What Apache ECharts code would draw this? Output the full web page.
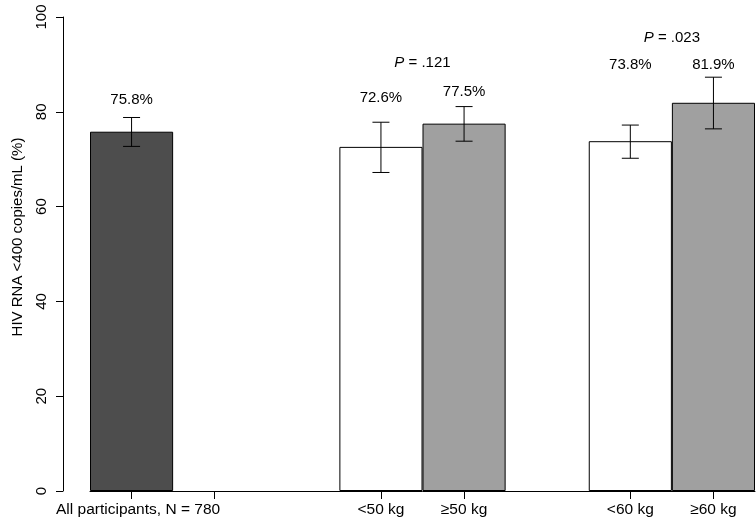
<!DOCTYPE html>
<html>
<head>
<meta charset="utf-8">
<script src="https://cdn.jsdelivr.net/npm/echarts@6/dist/echarts.min.js"></script>
<style>
html,body{margin:0;padding:0;background:#fff;}
#chart{width:756px;height:524px;}
</style>
</head>
<body>
<div id="chart"></div>
<script>
// ---- data ----
const categories = ['All participants, N = 780', '', '', '<50 kg', '\u226550 kg', '', '<60 kg', '\u226560 kg'];
const pct    = [75.8, null, null, 72.6, 77.5, null, 73.8, 81.9];
const ciLow  = [72.7, null, null, 67.2, 73.8, null, 70.2, 76.4];
const ciHigh = [78.8, null, null, 77.8, 81.1, null, 77.2, 87.3];
const labelY = [82.5, null, null, 83.0, 84.2, null, 89.9, 89.9];
const pValues = ['.121', '.023'];
const pPairs  = [[3, 4], [6, 7]];
const pY      = [90.4, 95.6];
const yTicks  = [0, 20, 40, 60, 80, 100];

// ---- style ----
const FONT = 'Liberation Sans, Arial, Helvetica, sans-serif';
const barColors = ['#4d4d4d', null, null, '#ffffff', '#a0a0a0', null, '#ffffff', '#a0a0a0'];
const tickAt = [0, 1, 3, 4, 6, 7];

const chart = echarts.init(document.getElementById('chart'), null, {renderer: 'canvas'});

const barData = pct.map((v, i) => v == null ? '-' : {
  value: v,
  itemStyle: {color: barColors[i], borderColor: '#000', borderWidth: 1}
});

const errData = [];
pct.forEach((v, i) => { if (v != null) errData.push([i, ciLow[i], ciHigh[i]]); });

const textData = [];
pct.forEach((v, i) => { if (v != null) textData.push([i, labelY[i], v.toFixed(1) + '%']); });

const pData = pValues.map((p, k) => [pPairs[k][0], pPairs[k][1], pY[k], p]);

const option = {
  animation: false,
  backgroundColor: '#fff',
  grid: {left: 90, right: 1, top: 17, bottom: 33, containLabel: false},
  xAxis: {
    type: 'category',
    data: categories.map((c, i) => i === 0 ? {value: String(i), textStyle: {padding: [0, 0, 0, 13]}} : String(i)),
    boundaryGap: true,
    axisLine: {show: true, lineStyle: {color: '#000', width: 1}},
    axisTick: {
      show: true, alignWithLabel: true, length: 8,
      interval: (idx) => tickAt.indexOf(idx) >= 0,
      lineStyle: {color: '#000', width: 1}
    },
    axisLabel: {
      interval: 0, margin: 11,
      formatter: (v) => categories[+v],
      color: '#000', fontFamily: FONT, fontSize: 15.5
    },
    splitLine: {show: false}
  },
  yAxis: {
    type: 'value', min: 0, max: 100, interval: 20,
    offset: 27,
    name: 'HIV RNA <400 copies/mL (%)',
    nameLocation: 'middle', nameRotate: 90, nameGap: 38,
    nameTextStyle: {color: '#000', fontFamily: FONT, fontSize: 15, padding: [0, 0, 0, 34]},
    axisLine: {show: true, lineStyle: {color: '#000', width: 1}},
    axisTick: {show: true, length: 7, lineStyle: {color: '#000', width: 1}},
    axisLabel: {rotate: 90, margin: 14, color: '#000', fontFamily: FONT, fontSize: 15,
      formatter: (v) => yTicks.indexOf(v) >= 0 ? String(v) : ''},
    splitLine: {show: false}
  },
  series: [
    {
      type: 'bar', data: barData, barCategoryGap: '0%', barGap: '0%', z: 2
    },
    {
      type: 'custom', z: 5, data: errData,
      renderItem: (params, api) => {
        const x = api.value(0);
        const lo = api.coord([x, api.value(1)]);
        const hi = api.coord([x, api.value(2)]);
        const hw = 8.5;
        const st = {stroke: '#000', lineWidth: 1};
        return {type: 'group', children: [
          {type: 'line', shape: {x1: lo[0], y1: lo[1], x2: hi[0], y2: hi[1]}, style: st},
          {type: 'line', shape: {x1: lo[0] - hw, y1: lo[1], x2: lo[0] + hw, y2: lo[1]}, style: st},
          {type: 'line', shape: {x1: hi[0] - hw, y1: hi[1], x2: hi[0] + hw, y2: hi[1]}, style: st}
        ]};
      }
    },
    {
      type: 'custom', z: 6, data: textData,
      renderItem: (params, api) => {
        const p = api.coord([api.value(0), api.value(1)]);
        return {type: 'text', x: p[0], y: p[1], style: {
          text: textData[params.dataIndex][2], fill: '#000', font: '15px ' + FONT,
          align: 'center', verticalAlign: 'middle'}};
      }
    },
    {
      type: 'custom', z: 6, data: pData,
      renderItem: (params, api) => {
        const a = api.coord([api.value(0), api.value(2)]);
        const b = api.coord([api.value(1), api.value(2)]);
        return {type: 'text', x: (a[0] + b[0]) / 2, y: a[1], style: {
          text: '{i|P} = ' + pData[params.dataIndex][3],
          fill: '#000', font: '15px ' + FONT,
          align: 'center', verticalAlign: 'middle',
          rich: {i: {fontStyle: 'italic', fontFamily: FONT, fontSize: 15, fill: '#000'}}
        }};
      }
    }
  ]
};
chart.setOption(option);
</script>
</body>
</html>
